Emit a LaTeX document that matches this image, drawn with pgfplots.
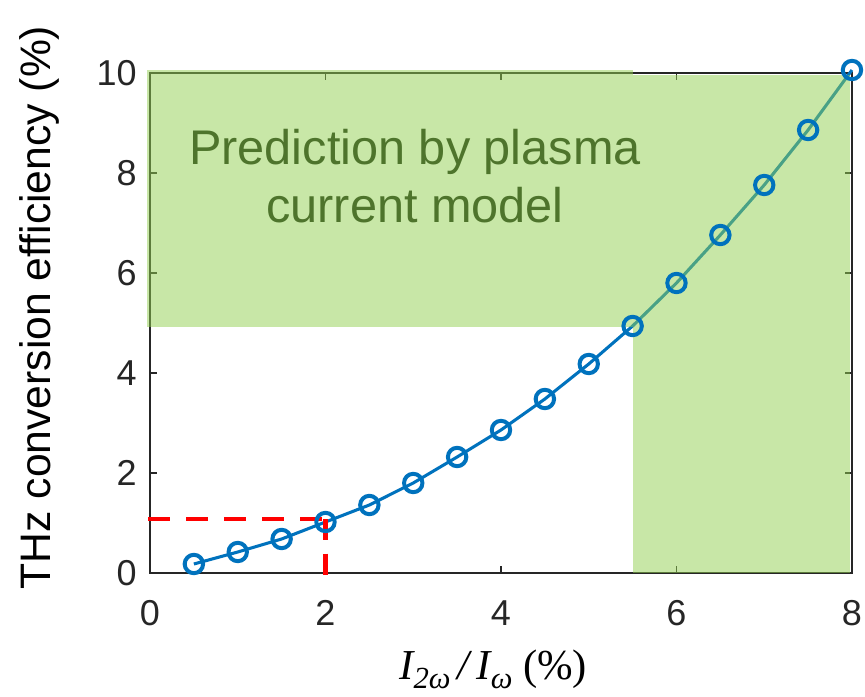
\documentclass[border=0pt]{standalone}
\usepackage[no-math]{fontspec}
\setmainfont{Liberation Sans}
\newfontfamily\serif{Liberation Serif}
\usepackage{pgfplots}
\pgfplotsset{compat=1.18}
\definecolor{mblue}{RGB}{0,114,189}
\definecolor{pgreen}{RGB}{146,208,80}
\definecolor{tgreen}{RGB}{78,116,44}
\definecolor{axgray}{RGB}{38,38,38}
\newcommand\lowsub[1]{\raisebox{-0.22em}{\fontsize{23}{26}\selectfont #1}}

\begin{document}
\begin{tikzpicture}
\begin{axis}[
  scale only axis,
  width=526.5pt, height=375pt,
  xmin=0, xmax=8, ymin=0, ymax=10,
  xtick={0,2,4,6,8}, ytick={0,2,4,6,8,10},
  tick align=inside,
  major tick length=5pt,
  axis line style={draw=axgray, line width=1pt},
  tick style={draw=axgray, line width=0.8pt},
  ticklabel style={font=\fontsize{27}{30}\selectfont, text=axgray, inner sep=0pt},
  /pgf/number format/assume math mode=true,
  xticklabel style={anchor=center, yshift=-30pt},
  yticklabel style={anchor=east, xshift=-9.75pt},
  xlabel={{\itshape I\lowsub{2ω}\,/\,I\lowsub{ω}}\ (\%)},
  xlabel style={font=\serif\fontsize{32}{36}\selectfont, text=black,
    at={(axis description cs:0.489,-0.193)}, anchor=center},
  ylabel={THz conversion efficiency (\%)},
  ylabel style={font=\fontsize{32}{36}\selectfont, text=black,
    at={(axis description cs:-0.157,0.531)}, anchor=center},
  clip=false,
]
% efficiency curve
\addplot[mblue, line width=2.3pt, mark=o, mark size=6.9pt,
  mark options={line width=3pt}] coordinates {
  (0.5,0.18) (1.0,0.42) (1.5,0.68) (2.0,1.02) (2.5,1.36) (3.0,1.80)
  (3.5,2.32) (4.0,2.86) (4.5,3.48) (5.0,4.18) (5.5,4.94) (6.0,5.80)
  (6.5,6.76) (7.0,7.76) (7.5,8.86) (8.0,10.06)
};
% red dashed guide at x=2
\addplot[red, line width=3.6pt, dash pattern=on 16pt off 12.5pt] coordinates {
  (-0.02,1.08) (2,1.08)
};
\addplot[red, line width=3.6pt, dash pattern=on 16pt off 10pt] coordinates {
  (2,1.08) (2,-0.08)
};
% prediction regions
\addplot[draw=none, fill=pgreen, fill opacity=0.5] coordinates {
  (-0.03,4.92) (5.5,4.92) (5.5,10.05) (-0.03,10.05)
} -- cycle;
\addplot[draw=none, fill=pgreen, fill opacity=0.5] coordinates {
  (5.5,0) (7.98,0) (7.98,9.95) (5.5,9.95)
} -- cycle;
\node[align=center, text=tgreen, font=\fontsize{36.5}{43}\selectfont]
  at (axis cs:3.02,7.94) {Prediction by plasma\\current model};
\end{axis}
\pgfresetboundingbox
\path[use as bounding box] (-112.5pt,-93pt) rectangle (536.25pt,429.75pt);
\end{tikzpicture}
\end{document}
